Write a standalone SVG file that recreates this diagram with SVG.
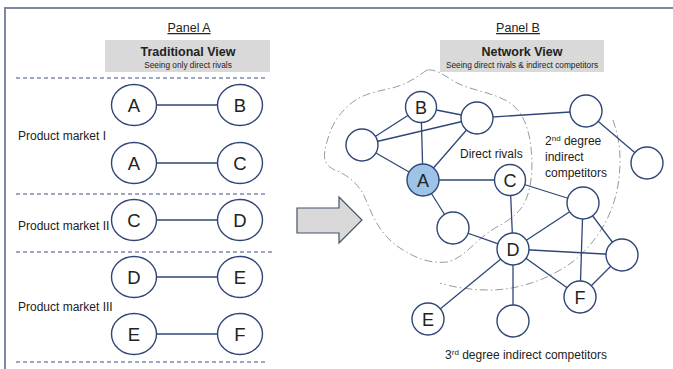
<svg xmlns="http://www.w3.org/2000/svg" width="673" height="369" viewBox="0 0 673 369">
<style>
text{font-family:"Liberation Sans",Arial,sans-serif;fill:#222}
.frame{stroke:#7d88a2;stroke-width:2;fill:none}
.dash{stroke:#3c5184;stroke-width:1.2;stroke-dasharray:4 3;fill:none}
.box{fill:#d9d9d9}
.n{fill:#fff;stroke:#2f4677;stroke-width:1.4}
.e{stroke:#2f4677;stroke-width:1.3;fill:none}
.dd{stroke:#999;stroke-width:1;fill:none;stroke-dasharray:8 3 1.5 3}
.lbl{font-size:18.5px;text-anchor:middle}
.lb{font-size:18px;text-anchor:middle}
.t{font-size:12px}
.h{font-size:12.5px;text-anchor:middle;text-decoration:underline}
.ti{font-size:12.5px;font-weight:bold;text-anchor:middle}
.st{font-size:8.3px;text-anchor:middle}
</style>
<path class="frame" d="M5,369 V8 H673"/>
<g id="panelA-header">
<text class="h" x="189" y="32">Panel A</text>
<rect class="box" x="105" y="40" width="165" height="32"/>
<text class="ti" x="188" y="56">Traditional View</text>
<text class="st" x="188" y="68">Seeing only direct rivals</text>
</g>
<g id="dividers">
<line class="dash" x1="16" y1="78" x2="268" y2="78"/>
<line class="dash" x1="16" y1="194" x2="268" y2="194"/>
<line class="dash" x1="16" y1="252" x2="273" y2="252"/>
<line class="dash" x1="16" y1="362" x2="268" y2="362"/>
</g>
<g id="market-labels">
<text class="t" x="18" y="140">Product market I</text>
<text class="t" x="18" y="230">Product market II</text>
<text class="t" x="18" y="311">Product market III</text>
</g>
<g id="connectorsA">
<line class="e" x1="157" y1="105" x2="218" y2="105"/>
<line class="e" x1="157" y1="163" x2="218" y2="163"/>
<line class="e" x1="157" y1="220" x2="218" y2="220"/>
<line class="e" x1="157" y1="277" x2="218" y2="277"/>
<line class="e" x1="157" y1="334" x2="218" y2="334"/>
</g>
<g id="a1"><ellipse class="n" cx="134" cy="105" rx="22.5" ry="20.5"/><text class="lbl" x="134" y="112">A</text></g>
<g id="b1"><ellipse class="n" cx="240" cy="105" rx="22.5" ry="20.5"/><text class="lbl" x="240" y="112">B</text></g>
<g id="a2"><ellipse class="n" cx="134" cy="163" rx="22.5" ry="20.5"/><text class="lbl" x="134" y="170">A</text></g>
<g id="c1"><ellipse class="n" cx="240" cy="163" rx="22.5" ry="20.5"/><text class="lbl" x="240" y="170">C</text></g>
<g id="c2"><ellipse class="n" cx="134" cy="220" rx="22.5" ry="20.5"/><text class="lbl" x="134" y="227">C</text></g>
<g id="d1"><ellipse class="n" cx="240" cy="220" rx="22.5" ry="20.5"/><text class="lbl" x="240" y="227">D</text></g>
<g id="d2"><ellipse class="n" cx="134" cy="277" rx="22.5" ry="20.5"/><text class="lbl" x="134" y="284">D</text></g>
<g id="e1"><ellipse class="n" cx="240" cy="277" rx="22.5" ry="20.5"/><text class="lbl" x="240" y="284">E</text></g>
<g id="e2"><ellipse class="n" cx="134" cy="334" rx="22.5" ry="20.5"/><text class="lbl" x="134" y="341">E</text></g>
<g id="f1"><ellipse class="n" cx="240" cy="334" rx="22.5" ry="20.5"/><text class="lbl" x="240" y="341">F</text></g>
<g id="arrow"><path d="M297,208 H339 V197 L362,220 L339,243 V233 H297 Z" fill="#d9d9d9" stroke="#44546a" stroke-width="1.2"/></g>
<g id="panelB-header">
<text class="h" x="518" y="32">Panel B</text>
<rect class="box" x="440" y="40" width="164" height="32"/>
<text class="ti" x="522" y="56">Network View</text>
<text class="st" x="522" y="68">Seeing direct rivals &amp; indirect competitors</text>
</g>
<g id="boundaries">
<path class="dd" d="M427,70 C415,78 408,84 392,88 C375,92 360,94 347,107 C335,118 330,130 326,145 C322,160 326,166 335,170 C348,175 360,185 366,200 C372,215 380,235 400,248 C415,258 430,264 447,262 C465,258 475,240 495,228 C510,220 522,212 527,197 C533,180 533,160 530,140 C526,120 520,108 505,100 C490,92 470,90 455,82 C445,76 437,69 427,70 Z"/>
<path class="dd" d="M613,120 C620,140 622,160 618,185 C613,215 598,240 575,260 C552,278 520,290 490,290 C470,290 452,287 440,283"/>
</g>
<g id="connectorsB">
<line class="e" x1="423" y1="180" x2="421" y2="107"/>
<line class="e" x1="423" y1="180" x2="362" y2="145"/>
<line class="e" x1="423" y1="180" x2="477" y2="118"/>
<line class="e" x1="423" y1="180" x2="510" y2="180"/>
<line class="e" x1="423" y1="180" x2="453" y2="228"/>
<line class="e" x1="421" y1="107" x2="362" y2="145"/>
<line class="e" x1="421" y1="107" x2="477" y2="118"/>
<line class="e" x1="362" y1="145" x2="477" y2="118"/>
<line class="e" x1="477" y1="118" x2="586" y2="111"/>
<line class="e" x1="586" y1="111" x2="647" y2="163"/>
<line class="e" x1="510" y1="180" x2="583" y2="203"/>
<line class="e" x1="510" y1="180" x2="513" y2="249"/>
<line class="e" x1="453" y1="228" x2="513" y2="249"/>
<line class="e" x1="513" y1="249" x2="583" y2="203"/>
<line class="e" x1="513" y1="249" x2="622" y2="255"/>
<line class="e" x1="513" y1="249" x2="580" y2="297"/>
<line class="e" x1="513" y1="249" x2="428" y2="319"/>
<line class="e" x1="513" y1="249" x2="513" y2="321"/>
<line class="e" x1="583" y1="203" x2="580" y2="297"/>
<line class="e" x1="583" y1="203" x2="622" y2="255"/>
<line class="e" x1="622" y1="255" x2="580" y2="297"/>
</g>
<g id="nB"><circle class="n" cx="421" cy="107" r="15.5"/><text class="lb" x="421" y="113.5">B</text></g>
<g id="nN1"><circle class="n" cx="477" cy="118" r="16"/></g>
<g id="nN2"><circle class="n" cx="362" cy="145" r="16"/></g>
<g id="nA"><circle class="n" cx="423" cy="180" r="16" style="fill:#9dc3e6"/><text class="lb" x="423" y="186.5">A</text></g>
<g id="nC"><circle class="n" cx="510" cy="180" r="15.5"/><text class="lb" x="510" y="186.5">C</text></g>
<g id="nN3"><circle class="n" cx="586" cy="111" r="16"/></g>
<g id="nN4"><circle class="n" cx="647" cy="163" r="16"/></g>
<g id="nN5"><circle class="n" cx="583" cy="203" r="16"/></g>
<g id="nN6"><circle class="n" cx="453" cy="228" r="16"/></g>
<g id="nD"><circle class="n" cx="513" cy="249" r="16"/><text class="lb" x="513" y="255.5">D</text></g>
<g id="nN7"><circle class="n" cx="622" cy="255" r="16"/></g>
<g id="nF"><circle class="n" cx="580" cy="297" r="16"/><text class="lb" x="580" y="303.5">F</text></g>
<g id="nE"><circle class="n" cx="428" cy="319" r="16"/><text class="lb" x="428" y="325.5">E</text></g>
<g id="nN8"><circle class="n" cx="513" cy="321" r="16"/></g>
<g id="labelsB">
<text class="t" x="460" y="158">Direct rivals</text>
<text class="t" x="545" y="145">2<tspan font-size="8" dy="-4">nd</tspan><tspan dy="4"> degree</tspan></text>
<text class="t" x="545" y="161">indirect</text>
<text class="t" x="545" y="177">competitors</text>
<text class="t" x="526" y="359" text-anchor="middle">3<tspan font-size="8" dy="-4">rd</tspan><tspan dy="4"> degree indirect competitors</tspan></text>
</g>
</svg>
